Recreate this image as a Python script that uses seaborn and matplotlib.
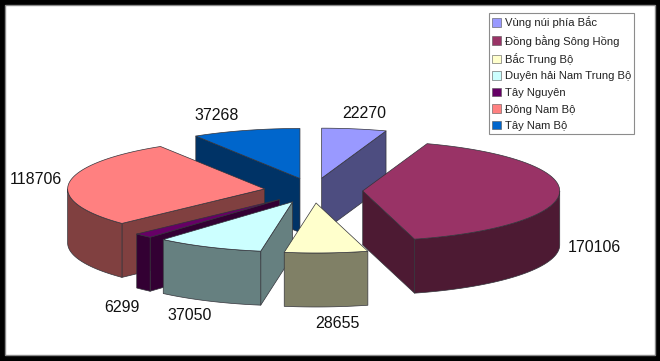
import matplotlib
matplotlib.use('Agg')

import matplotlib.pyplot as plt
import numpy as np
import seaborn as sns
from matplotlib.patches import Patch, Rectangle

regions = ['Vùng núi phía Bắc', 'Đồng bằng Sông Hồng', 'Bắc Trung Bộ', 'Duyên hải Nam Trung Bộ',
           'Tây Nguyên', 'Đông Nam Bộ', 'Tây Nam Bộ']
values = [22270, 170106, 28655, 37050, 6299, 118706, 37268]
top_colors = ['#9999FF', '#993366', '#FFFFCC', '#CCFFFF', '#660066', '#FF8080', '#0066CC']

# layout of the fake 3d pie, in pixels
CX, CY = 313.5, 190.5
RX, RY = 197, 50
DEPTH = 54
EXPLODE = 0.25
label_xy = [(364, 113), (594, 247), (337, 323), (190, 316), (122, 307), (36, 180), (217, 115)]

sns.set_theme(style='white')
plt.rcParams['font.family'] = ['Liberation Sans', 'DejaVu Sans']


def arc(cx, cy, a, b, n=60):
    t = np.radians(np.linspace(a, b, n))
    return cx + RX * np.sin(t), cy - RY * np.cos(t)


def draw_face(ax, xs, ys, color):
    ax.fill(xs, ys, facecolor=color, edgecolor='#33333a', linewidth=0.5, joinstyle='round')


def draw_slice(ax, start, end, color):
    mid = np.radians((start + end) / 2)
    cx = CX + EXPLODE * RX * np.sin(mid)
    cy = CY - EXPLODE * RY * np.cos(mid)
    dark = tuple(c * 0.5 for c in matplotlib.colors.to_rgb(color))

    # cut faces, only those turned towards the viewer
    for edge, normal in ((start, start - 90), (end, end + 90)):
        if np.cos(np.radians(normal)) < -1e-6:
            ex, ey = arc(cx, cy, edge, edge, 1)
            draw_face(ax, [cx, ex[0], ex[0], cx], [cy, ey[0], ey[0] + DEPTH, cy + DEPTH], dark)

    # outer wall, front half of the ellipse
    a, b = max(start, 90), min(end, 270)
    if b > a:
        xs, ys = arc(cx, cy, a, b)
        draw_face(ax, np.r_[xs, xs[::-1]], np.r_[ys, ys[::-1] + DEPTH], dark)

    xs, ys = arc(cx, cy, start, end)
    draw_face(ax, np.r_[cx, xs], np.r_[cy, ys], color)


fig = plt.figure(figsize=(6.6, 3.61), dpi=100, facecolor='black')
ax = fig.add_axes([0, 0, 1, 1])
ax.set_xlim(0, 660)
ax.set_ylim(361, 0)
ax.axis('off')
ax.add_patch(Rectangle((5, 5), 650, 350, facecolor='white', edgecolor='#8a8a8a', linewidth=1))

angles = np.cumsum([0] + values) / sum(values) * 360
order = sorted(range(len(values)), key=lambda i: -np.cos(np.radians((angles[i] + angles[i + 1]) / 2)))
for i in order:
    draw_slice(ax, angles[i], angles[i + 1], top_colors[i])

for v, (x, y) in zip(values, label_xy):
    ax.text(x, y, str(v), ha='center', va='center', fontsize=11.5, color='#111111')

handles = [Patch(facecolor=c, edgecolor='#555555', linewidth=0.4) for c in top_colors]
leg = ax.legend(handles, regions, loc='upper left', bbox_to_anchor=(489, 13), bbox_transform=ax.transData,
                fontsize=8.1, frameon=True, fancybox=False, edgecolor='#8c8c8c', framealpha=1,
                borderaxespad=0, labelspacing=0.56, handlelength=0.8, handleheight=0.8,
                handletextpad=0.3, borderpad=0.3, labelcolor='#222222')
leg.get_frame().set_linewidth(0.8)

plt.savefig('out.png', dpi=100, facecolor='black')
plt.close()
